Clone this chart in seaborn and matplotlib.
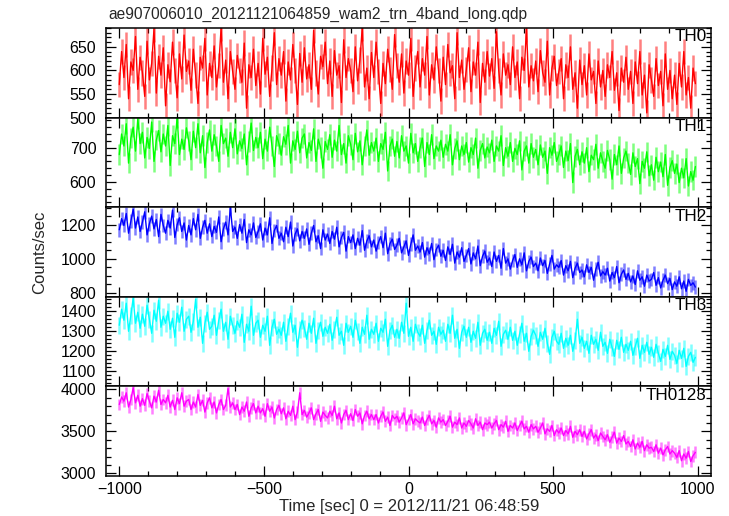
import numpy as np
import pandas as pd
import matplotlib
matplotlib.use("Agg")
import matplotlib.pyplot as plt
from matplotlib.ticker import MultipleLocator
import seaborn as sns

title = "ae907006010_20121121064859_wam2_trn_4band_long.qdp"
band_labels = ["TH0", "TH1", "TH2", "TH3", "TH0123"]
colors = ["#ff0000", "#00ff00", "#0000ff", "#00ffff", "#ff00ff"]

# time grid (sec): 8-s bins read across -1000..1000
time = np.arange(-1000, 1000, 8)

th0 = [570, 640, 585, 655, 540, 618, 600, 672, 560, 628,
       595, 545, 662, 580, 615, 688, 552, 630, 590, 648,
       525, 612, 576, 660, 600, 542, 635, 582, 675, 598,
       620, 558, 645, 590, 530, 628, 605, 668, 548, 615,
       585, 652, 565, 610, 690, 575, 622, 540, 640, 598,
       560, 632, 600, 575, 658, 520, 612, 585, 645, 568,
       615, 550, 668, 592, 628, 545, 605, 680, 570, 625,
       590, 640, 535, 618, 580, 655, 600, 528, 636, 575,
       648, 582, 612, 560, 685, 595, 550, 630, 608, 660,
       572, 620, 545, 642, 590, 610, 532, 665, 585, 625,
       600, 555, 650, 578, 622, 690, 565, 605, 540, 638,
       585, 660, 598, 530, 615, 572, 645, 602, 560, 676,
       610, 575, 635, 552, 620, 590, 668, 545, 605, 640,
       565, 625, 590, 672, 548, 612, 580, 650, 600, 535,
       628, 570, 655, 595, 610, 540, 680, 585, 622, 560,
       602, 648, 555, 618, 590, 660, 532, 615, 575, 640,
       588, 625, 562, 682, 600, 548, 635, 590, 612, 570,
       650, 585, 618, 540, 628, 600, 688, 565, 610, 578,
       620, 555, 642, 595, 575, 662, 548, 605, 630, 568,
       598, 625, 540, 612, 585, 650, 560, 595, 520, 622,
       570, 610, 548, 635, 580, 598, 530, 620, 565, 600,
       545, 612, 585, 640, 558, 595, 515, 605, 575, 628,
       560, 598, 530, 618, 572, 640, 548, 590, 510, 612,
       580, 545, 625, 568, 598, 525, 635, 560, 600, 540,
       590, 528, 615, 565, 640, 548, 585, 520, 605, 572]

th1 = [680, 740, 705, 770, 655, 728, 760, 690, 785, 712,
       745, 670, 730, 698, 775, 660, 722, 750, 688, 740,
       705, 765, 648, 735, 712, 788, 680, 725, 695, 758,
       720, 665, 748, 700, 770, 685, 735, 642, 715, 752,
       690, 738, 705, 660, 765, 712, 728, 675, 745, 700,
       755, 682, 720, 698, 740, 650, 718, 772, 692, 730,
       700, 745, 668, 725, 690, 760, 705, 645, 735, 712,
       678, 732, 710, 765, 655, 720, 695, 748, 685, 728,
       740, 670, 715, 692, 755, 660, 725, 700, 640, 718,
       695, 738, 672, 722, 690, 765, 680, 712, 655, 735,
       710, 665, 742, 688, 720, 650, 705, 752, 678, 715,
       690, 728, 660, 712, 695, 745, 632, 705, 725, 675,
       718, 670, 735, 690, 705, 655, 742, 685, 712, 660,
       700, 728, 645, 715, 680, 738, 668, 705, 690, 722,
       672, 710, 690, 738, 650, 698, 720, 665, 705, 680,
       715, 658, 700, 680, 728, 640, 692, 712, 670, 702,
       685, 722, 660, 705, 690, 735, 648, 700, 675, 715,
       660, 698, 680, 720, 635, 690, 705, 655, 712, 672,
       695, 650, 708, 672, 690, 625, 700, 678, 715, 660,
       680, 705, 642, 690, 662, 712, 598, 675, 695, 650,
       688, 655, 700, 630, 678, 665, 710, 640, 685, 660,
       640, 692, 665, 608, 680, 650, 705, 625, 670, 690,
       655, 622, 685, 645, 668, 595, 660, 640, 688, 618,
       650, 605, 672, 630, 658, 615, 680, 590, 642, 662,
       625, 652, 598, 640, 612, 668, 588, 630, 605, 645]

th2 = [1170, 1235, 1195, 1265, 1150, 1220, 1290, 1180, 1245, 1160,
       1215, 1275, 1140, 1205, 1250, 1175, 1230, 1130, 1260, 1195,
       1150, 1225, 1180, 1285, 1125, 1200, 1240, 1160, 1210, 1110,
       1195, 1140, 1235, 1170, 1260, 1120, 1185, 1225, 1150, 1205,
       1130, 1190, 1155, 1245, 1100, 1175, 1215, 1140, 1300, 1160,
       1185, 1120, 1200, 1150, 1230, 1095, 1170, 1140, 1210, 1125,
       1160, 1205, 1110, 1180, 1140, 1240, 1090, 1165, 1195, 1120,
       1150, 1100, 1185, 1130, 1215, 1075, 1145, 1175, 1105, 1160,
       1120, 1175, 1085, 1150, 1195, 1100, 1135, 1060, 1170, 1110,
       1145, 1090, 1160, 1115, 1185, 1070, 1125, 1155, 1045, 1130,
       1095, 1140, 1060, 1120, 1080, 1165, 1050, 1105, 1135, 1070,
       1110, 1045, 1095, 1130, 1065, 1150, 1030, 1090, 1115, 1055,
       1080, 1120, 1035, 1070, 1105, 1020, 1085, 1140, 1050, 1075,
       1040, 1095, 1010, 1065, 1030, 1090, 995, 1055, 1080, 1015,
       1050, 990, 1070, 1025, 1085, 975, 1040, 1010, 1065, 985,
       1020, 1060, 970, 1035, 1000, 1075, 960, 1015, 1045, 980,
       1005, 955, 1040, 985, 1020, 945, 1060, 975, 1000, 940,
       990, 1025, 950, 1000, 965, 1035, 930, 985, 1010, 955,
       975, 930, 1005, 960, 990, 915, 970, 1020, 940, 965,
       950, 990, 905, 960, 930, 985, 890, 945, 975, 920,
       935, 895, 965, 920, 950, 875, 940, 980, 900, 925,
       905, 945, 870, 920, 890, 955, 860, 910, 935, 880,
       915, 865, 900, 850, 930, 875, 895, 840, 905, 870,
       880, 920, 845, 890, 830, 875, 905, 855, 885, 820,
       865, 840, 895, 825, 870, 810, 880, 845, 860, 835]

th3 = [1330, 1410, 1355, 1440, 1300, 1380, 1465, 1340, 1395, 1315,
       1385, 1325, 1430, 1360, 1290, 1405, 1350, 1455, 1320, 1375,
       1340, 1400, 1310, 1365, 1270, 1390, 1345, 1420, 1300, 1360,
       1375, 1295, 1350, 1460, 1320, 1370, 1240, 1340, 1395, 1310,
       1325, 1380, 1280, 1355, 1410, 1300, 1345, 1260, 1375, 1330,
       1290, 1350, 1320, 1385, 1245, 1335, 1300, 1425, 1280, 1340,
       1355, 1270, 1330, 1300, 1375, 1230, 1320, 1360, 1285, 1310,
       1280, 1345, 1250, 1325, 1390, 1295, 1330, 1220, 1310, 1355,
       1315, 1260, 1340, 1290, 1365, 1240, 1305, 1345, 1275, 1320,
       1290, 1335, 1255, 1310, 1370, 1280, 1300, 1230, 1340, 1295,
       1325, 1270, 1355, 1300, 1240, 1320, 1285, 1380, 1260, 1310,
       1285, 1340, 1250, 1315, 1295, 1360, 1225, 1305, 1330, 1270,
       1310, 1265, 1345, 1290, 1440, 1275, 1320, 1250, 1335, 1295,
       1275, 1330, 1240, 1305, 1355, 1280, 1300, 1235, 1320, 1285,
       1305, 1250, 1335, 1290, 1380, 1265, 1310, 1215, 1295, 1325,
       1270, 1320, 1245, 1300, 1265, 1345, 1230, 1290, 1310, 1255,
       1295, 1240, 1315, 1280, 1350, 1225, 1285, 1305, 1260, 1320,
       1255, 1300, 1230, 1285, 1340, 1250, 1290, 1200, 1275, 1305,
       1280, 1225, 1295, 1260, 1315, 1240, 1185, 1270, 1300, 1250,
       1235, 1290, 1215, 1265, 1230, 1280, 1200, 1255, 1360, 1240,
       1270, 1215, 1250, 1190, 1280, 1235, 1260, 1205, 1295, 1225,
       1245, 1190, 1260, 1220, 1175, 1255, 1210, 1270, 1195, 1235,
       1205, 1250, 1180, 1225, 1265, 1165, 1230, 1195, 1245, 1185,
       1220, 1170, 1235, 1190, 1150, 1210, 1175, 1230, 1160, 1200,
       1180, 1140, 1205, 1165, 1215, 1125, 1175, 1195, 1145, 1170]

th0123 = [3820, 3910, 3860, 3960, 3790, 3880, 4020, 3840, 3930, 3800,
          3890, 3810, 3950, 3860, 3780, 3920, 3850, 3990, 3820, 3880,
          3840, 3930, 3790, 3870, 3760, 3900, 3830, 3960, 3800, 3860,
          3880, 3760, 3850, 3790, 3940, 3810, 3870, 3730, 3840, 3900,
          3780, 3850, 3720, 3820, 3880, 3760, 3810, 4010, 3790, 3840,
          3760, 3820, 3700, 3790, 3740, 3850, 3680, 3780, 3830, 3720,
          3800, 3720, 3770, 3680, 3830, 3740, 3790, 3660, 3760, 3810,
          3710, 3780, 3650, 3740, 3690, 3800, 3640, 3730, 3960, 3700,
          3750, 3670, 3720, 3780, 3640, 3710, 3760, 3620, 3730, 3690,
          3660, 3740, 3690, 3800, 3650, 3720, 3600, 3700, 3750, 3640,
          3710, 3630, 3760, 3680, 3720, 3590, 3690, 3740, 3650, 3700,
          3640, 3700, 3600, 3680, 3730, 3620, 3670, 3570, 3690, 3650,
          3680, 3610, 3660, 3720, 3580, 3640, 3700, 3590, 3650, 3620,
          3600, 3670, 3570, 3640, 3690, 3590, 3630, 3550, 3660, 3610,
          3640, 3570, 3620, 3680, 3550, 3610, 3580, 3660, 3540, 3600,
          3560, 3630, 3590, 3540, 3650, 3570, 3610, 3520, 3600, 3580,
          3610, 3540, 3590, 3630, 3520, 3580, 3550, 3620, 3500, 3570,
          3540, 3600, 3510, 3570, 3620, 3530, 3560, 3490, 3580, 3530,
          3560, 3490, 3540, 3600, 3470, 3530, 3500, 3570, 3450, 3520,
          3480, 3540, 3450, 3510, 3470, 3560, 3430, 3500, 3460, 3520,
          3440, 3500, 3410, 3470, 3520, 3420, 3460, 3390, 3480, 3440,
          3400, 3460, 3370, 3430, 3490, 3360, 3420, 3380, 3450, 3350,
          3380, 3320, 3400, 3290, 3360, 3310, 3380, 3270, 3340, 3300,
          3310, 3260, 3340, 3240, 3300, 3220, 3280, 3320, 3230, 3270,
          3240, 3190, 3270, 3150, 3230, 3180, 3260, 3140, 3210, 3250]

# 1-sigma errors per band (counts/sec)
errors = [27, 30, 40, 43, 70]

series = [th0, th1, th2, th3, th0123]
ylims = [(500, 690), (526, 788), (778, 1302), (1025, 1472), (2968, 4036)]
major_steps = [50, 100, 200, 100, 500]
minor_steps = [10, 20, 50, 20, 100]

sns.set_style("ticks")
plt.rcParams["font.family"] = ["Liberation Sans", "DejaVu Sans"]
plt.rcParams["axes.linewidth"] = 1.1

W, H = 729, 516
fig = plt.figure(figsize=(W / 100, H / 100), dpi=100)
left, right, top, bottom = 106, 711, 28, 476
ph = (bottom - top) / 5

axes = []
for i in range(5):
    y0 = top + ph * (i + 1)
    ax = fig.add_axes([left / W, (H - y0) / H, (right - left) / W, ph / H])
    axes.append(ax)
    vals = np.asarray(series[i], dtype=float)
    ax.vlines(time, vals - errors[i], vals + errors[i], color=colors[i],
              alpha=0.5, linewidth=1.8)
    df = pd.DataFrame({"t": time, "rate": vals})
    sns.lineplot(data=df, x="t", y="rate", ax=ax, color=colors[i],
                 linewidth=1.0, estimator=None)
    ax.set_xlim(-1046, 1046)
    ax.set_ylim(*ylims[i])
    ax.xaxis.set_major_locator(MultipleLocator(500))
    ax.xaxis.set_minor_locator(MultipleLocator(100))
    ax.yaxis.set_major_locator(MultipleLocator(major_steps[i]))
    ax.yaxis.set_minor_locator(MultipleLocator(minor_steps[i]))
    ax.tick_params(which="both", direction="in", top=True, right=True,
                   labelsize=11.5, colors="black", width=0.9)
    ax.tick_params(axis="y", which="major", pad=7)
    ax.tick_params(axis="x", which="major", pad=4)
    ax.tick_params(which="major", length=7)
    ax.tick_params(which="minor", length=3.5)
    ax.set_xlabel("")
    ax.set_ylabel("")
    if i < 4:
        ax.tick_params(labelbottom=False)
    for s in ax.spines.values():
        s.set_color("black")
    ax.text(0.993, 0.985, band_labels[i], transform=ax.transAxes,
            ha="right", va="top", fontsize=12.3, color="black")

fig.text(108 / W, 1 - 14 / H, title, ha="left", va="center", fontsize=11.2)
fig.text(40 / W, 1 - 252 / H, "Counts/sec", rotation=90, ha="center",
         va="center", fontsize=12)
fig.text(409 / W, 1 - 507 / H, "Time [sec] 0 = 2012/11/21 06:48:59",
         ha="center", va="center", fontsize=12)

fig.savefig("out.png", dpi=100)
